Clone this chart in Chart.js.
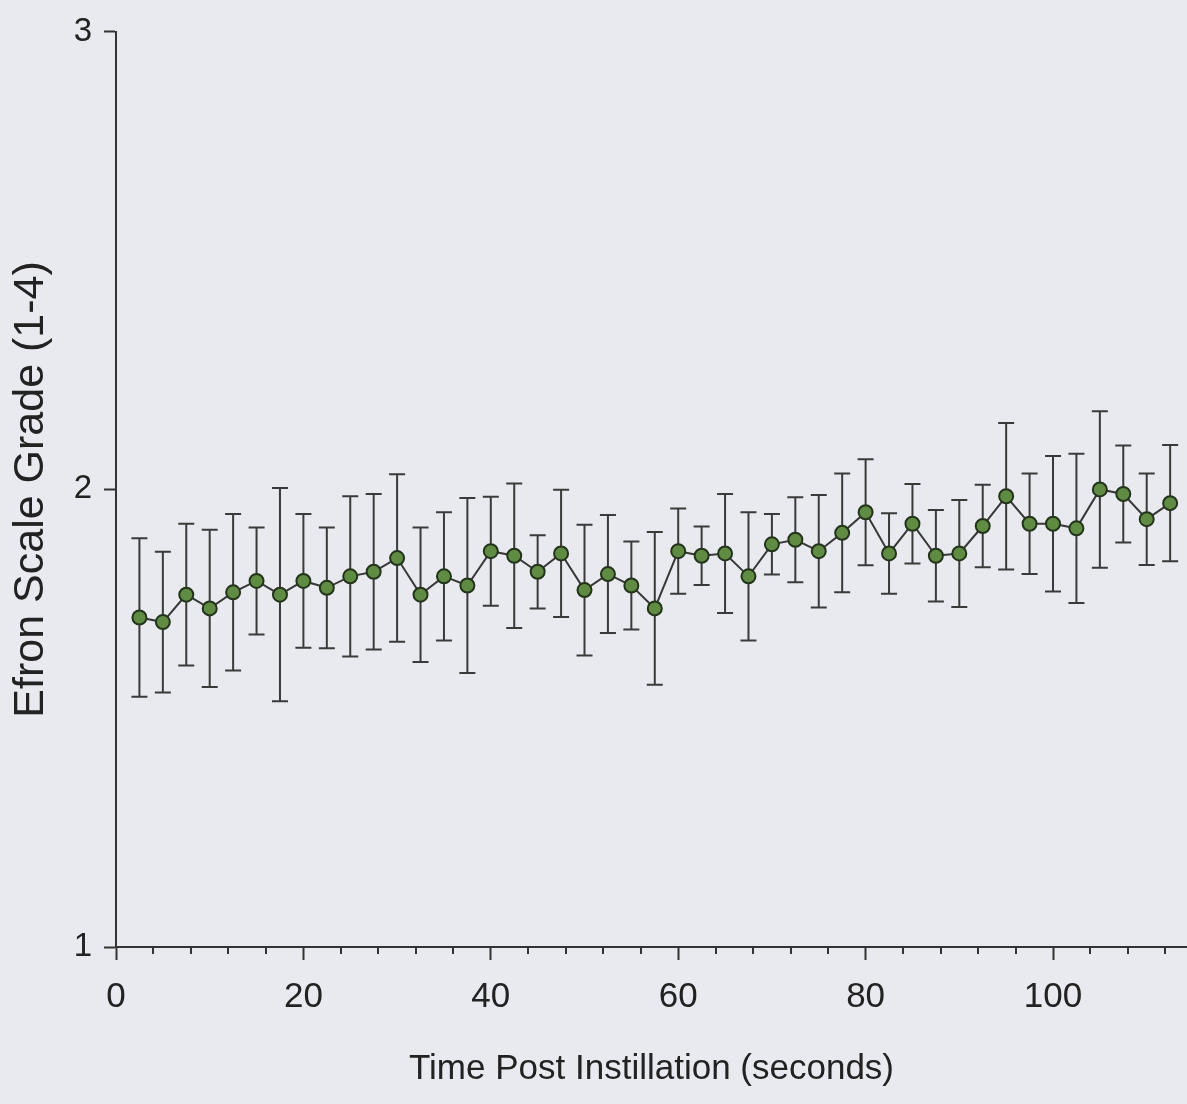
<!DOCTYPE html>
<html>
<head>
<meta charset="utf-8">
<script src="https://cdn.jsdelivr.net/npm/chart.js@4/dist/chart.umd.min.js"></script>
<style>
  html, body { margin: 0; padding: 0; background: #e9eaef; }
  #wrap { width: 1187px; height: 1104px; position: relative; }
</style>
</head>
<body>
<div id="wrap"><canvas id="efronChart"></canvas></div>
<script>
// time after instillation (s)
const times = [2.5, 5, 7.5, 10, 12.5, 15, 17.5, 20, 22.5, 25,
               27.5, 30, 32.5, 35, 37.5, 40, 42.5, 45, 47.5, 50,
               52.5, 55, 57.5, 60, 62.5, 65, 67.5, 70, 72.5, 75,
               77.5, 80, 82.5, 85, 87.5, 90, 92.5, 95, 97.5, 100,
               102.5, 105, 107.5, 110, 112.5];

// mean Efron grade at each time
const grade = [1.72, 1.71, 1.77, 1.74, 1.775, 1.80, 1.77, 1.80, 1.785, 1.81,
               1.82, 1.85, 1.77, 1.81, 1.79, 1.865, 1.855, 1.82, 1.86, 1.78,
               1.815, 1.79, 1.74, 1.865, 1.855, 1.86, 1.81, 1.88, 1.89, 1.865,
               1.905, 1.95, 1.86, 1.925, 1.855, 1.86, 1.92, 1.985, 1.925, 1.925,
               1.915, 2.0, 1.99, 1.935, 1.97];

// error bar half-length
const gradeErr = [0.173, 0.154, 0.155, 0.172, 0.171, 0.117, 0.233, 0.146, 0.132, 0.175,
                  0.170, 0.183, 0.147, 0.140, 0.191, 0.119, 0.158, 0.080, 0.139, 0.143,
                  0.129, 0.096, 0.167, 0.093, 0.064, 0.130, 0.140, 0.066, 0.093, 0.123,
                  0.130, 0.116, 0.088, 0.087, 0.100, 0.117, 0.090, 0.160, 0.110, 0.148,
                  0.163, 0.171, 0.106, 0.100, 0.127];

const xTicks = [0, 20, 40, 60, 80, 100];
const yTicks = [1, 2, 3];

const FONT = "'Liberation Sans', Arial, Helvetica, sans-serif";
const INK = "#333333";

const errorBars = {
  id: "errorBars",
  beforeDatasetsDraw(chart) {
    const { ctx, scales: { x, y } } = chart;
    ctx.save();
    ctx.strokeStyle = "#3a3a3a";
    ctx.lineWidth = 2;
    times.forEach((t, i) => {
      const px = x.getPixelForValue(t);
      const top = y.getPixelForValue(grade[i] + gradeErr[i]);
      const bot = y.getPixelForValue(grade[i] - gradeErr[i]);
      ctx.beginPath();
      ctx.moveTo(px, top); ctx.lineTo(px, bot);
      ctx.moveTo(px - 8, top); ctx.lineTo(px + 8, top);
      ctx.moveTo(px - 8, bot); ctx.lineTo(px + 8, bot);
      ctx.stroke();
    });
    ctx.restore();
  }
};

// small ticks every 4 s between the labelled ones
const minorTicks = {
  id: "minorTicks",
  afterDraw(chart) {
    const { ctx, scales: { x } } = chart;
    const base = chart.chartArea.bottom;
    ctx.save();
    ctx.strokeStyle = INK;
    ctx.lineWidth = 2;
    ctx.beginPath();
    for (let v = 4; v <= x.max; v += 4) {
      if (v % 20 === 0) continue;
      const px = Math.round(x.getPixelForValue(v));
      ctx.moveTo(px, base);
      ctx.lineTo(px, base + 7);
    }
    ctx.stroke();
    ctx.restore();
  }
};

new Chart(document.getElementById("efronChart"), {
  type: "line",
  data: {
    datasets: [{
      data: times.map((t, i) => ({ x: t, y: grade[i] })),
      borderColor: "#383838",
      borderWidth: 2,
      tension: 0,
      pointRadius: 7,
      pointBorderWidth: 2,
      pointBackgroundColor: "#5f8c42",
      pointBorderColor: "#24331b",
      clip: false
    }]
  },
  options: {
    responsive: true,
    maintainAspectRatio: false,
    animation: false,
    events: [],
    layout: { autoPadding: false, padding: { top: 29, right: 0, bottom: 0, left: 0 } },
    plugins: { legend: { display: false }, tooltip: { enabled: false } },
    scales: {
      x: {
        type: "linear",
        min: 0,
        max: 114.3,
        afterFit: s => { s.height = 157; },
        afterBuildTicks: s => { s.ticks = xTicks.map(v => ({ value: v })); },
        border: { display: true, color: INK, width: 2 },
        grid: { drawOnChartArea: false, drawTicks: true, tickLength: 13, tickColor: INK, tickWidth: 2 },
        ticks: { color: "#222", padding: 16, maxRotation: 0, font: { family: FONT, size: 35 } },
        title: {
          display: true,
          text: "Time Post Instillation (seconds)",
          color: "#222",
          font: { family: FONT, size: 35, lineHeight: 1 },
          padding: { top: 0, bottom: 17 }
        }
      },
      y: {
        min: 1,
        max: 3,
        afterFit: s => { s.width = 116; },
        afterBuildTicks: s => { s.ticks = yTicks.map(v => ({ value: v })); },
        border: { display: true, color: INK, width: 2 },
        grid: { drawOnChartArea: false, drawTicks: true, tickLength: 12, tickColor: INK, tickWidth: 2 },
        ticks: { color: "#222", padding: 12, font: { family: FONT, size: 33 } },
        title: {
          display: true,
          text: "Efron Scale Grade (1-4)",
          color: "#222",
          font: { family: FONT, size: 43, lineHeight: 1 },
          padding: { top: 10, bottom: 0 }
        }
      }
    }
  },
  plugins: [errorBars, minorTicks]
});
</script>
</body>
</html>
